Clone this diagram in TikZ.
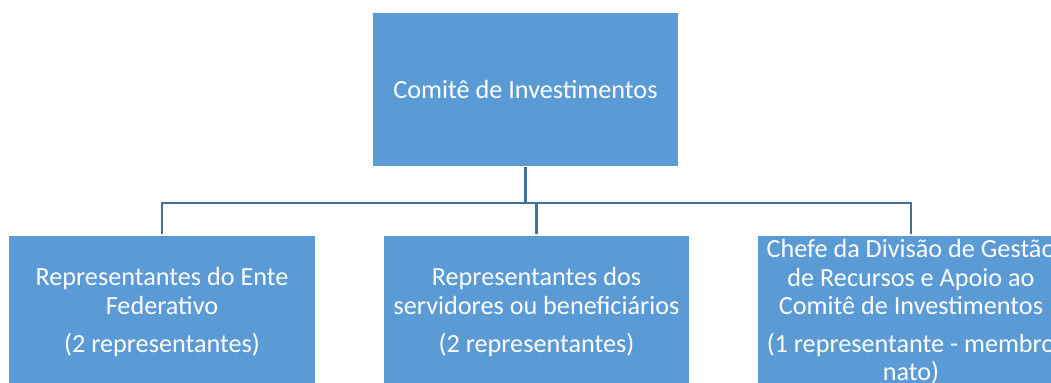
\documentclass[tikz,border=0pt]{standalone}
\usepackage{fontspec}
\setmainfont{Carlito}
\definecolor{boxblue}{HTML}{5B9BD5}
\definecolor{linkblue}{HTML}{41719C}
\begin{document}
\begin{tikzpicture}[x=0.5pt,y=-0.5pt,
  orgbox/.style={draw=white,line width=0.6pt,fill=boxblue,text=white,
    minimum width=153.5pt,minimum height=77pt,inner sep=2pt,
    align=center,font=\fontsize{13.1}{14.3}\selectfont},
  link/.style={draw=linkblue,line width=1.1pt}]
\clip (0,0) rectangle (1051,383);
\fill[white] (0,0) rectangle (1051,383);
\node[orgbox] (top) at (525.5,89.5) {Comitê de Investimentos};
\node[orgbox] (ente) at (162,312) {Representantes do Ente\\Federativo\\[4.5pt](2 representantes)};
\node[orgbox] (serv) at (536.5,312) {Representantes dos\\servidores ou beneficiários\\[4.5pt](2 representantes)};
\node[orgbox] (chefe) at (911,312) {Chefe da Divisão de Gestão\\de Recursos e Apoio ao\\Comitê de Investimentos\\[4.5pt](1 representante - membro\\nato)};
\coordinate (bus) at (525.5,203);
\path[link] (top.south) -- (bus);
\path[link] (bus) -| (ente.north);
\path[link] (bus) -| (serv.north);
\path[link] (bus) -| (chefe.north);
\end{tikzpicture}
\end{document}
